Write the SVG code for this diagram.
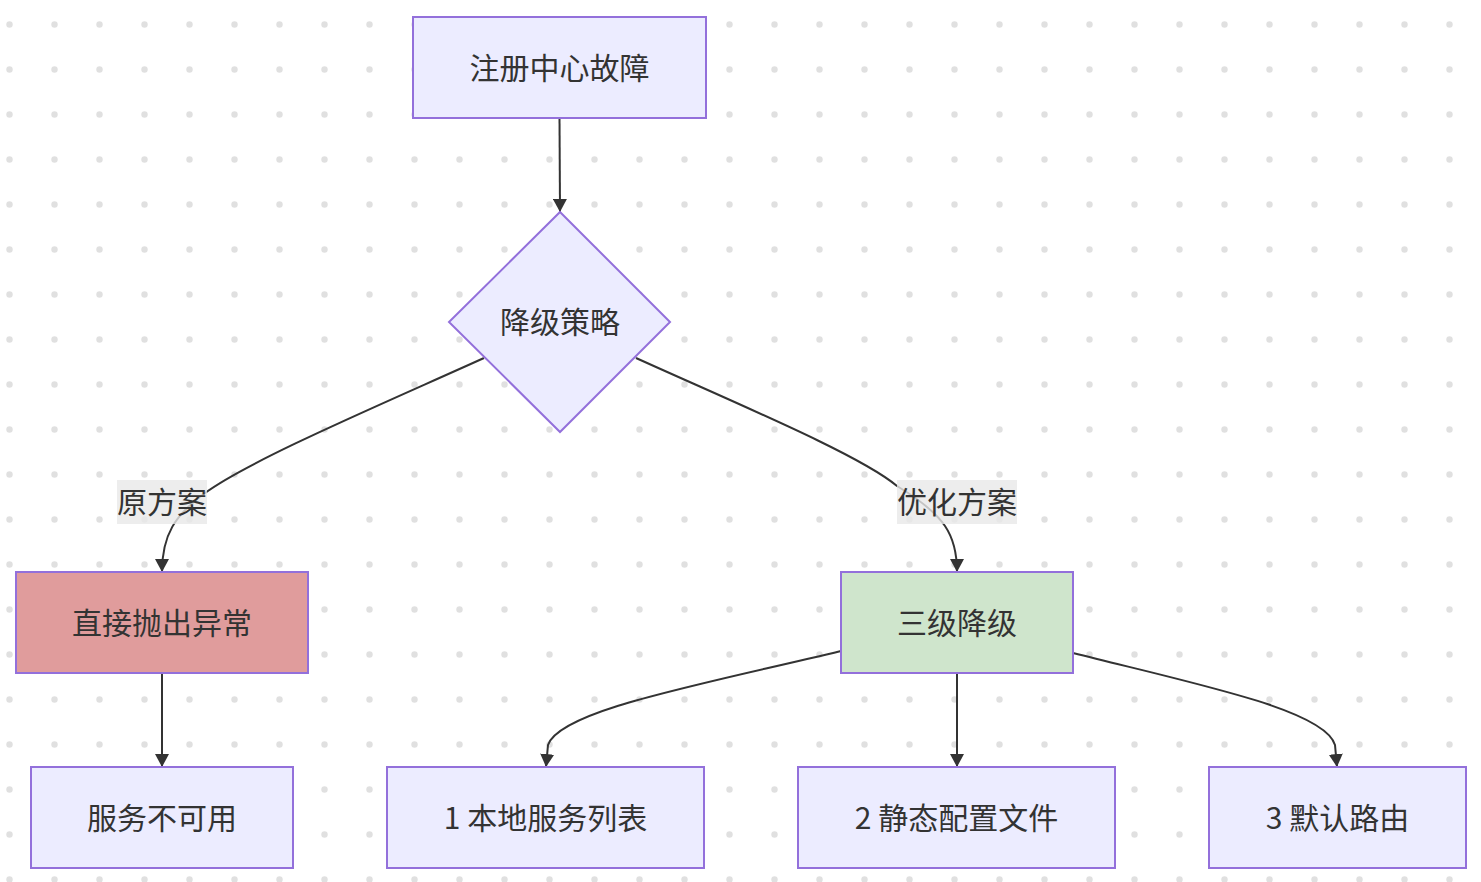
<svg xmlns="http://www.w3.org/2000/svg" width="1481" height="882" viewBox="0 0 1481 882">
<defs>
<pattern id="dots" x="0" y="0" width="45" height="45" patternUnits="userSpaceOnUse">
<circle cx="9.5" cy="24.5" r="3.2" fill="#e0e0e0"/>
</pattern>
<marker id="arrow" viewBox="0 0 13 14" refX="13" refY="7" markerWidth="13" markerHeight="14" markerUnits="userSpaceOnUse" orient="auto">
<path d="M0,0 L13,7 L0,14 z" fill="#333"/>
</marker>
<style>
.node rect, .node polygon { fill: #ECECFF; stroke: #9370DB; stroke-width: 2; }
.node text, .label text { font-family: "Noto Sans CJK SC", "Noto Sans", sans-serif; font-size: 30px; fill: #333; text-anchor: middle; dominant-baseline: central; }
.edge { fill: none; stroke: #333; stroke-width: 2; marker-end: url(#arrow); }
.label rect { fill: rgba(232,232,232,0.8); }
</style>
</defs>
<rect width="1481" height="882" fill="#fff"/>
<rect width="1481" height="882" fill="url(#dots)"/>
<g id="connectors">
<path class="edge" d="M559.5,118 L560,212"/>
<path class="edge" d="M484,358 C 380,405 250,460 205,493 C 175,515 162,535 162,572"/>
<path class="edge" d="M636,358 C 740,405 860,455 897,486 C 945,515 957,535 957,572"/>
<path class="edge" d="M162,673 L162,767"/>
<path class="edge" d="M841,651 C 700,685 560,710 548,745 L546,767"/>
<path class="edge" d="M957,673 L957,767"/>
<path class="edge" d="M1073,653 C 1200,685 1325,710 1335,745 L1337,767"/>
</g>
<g id="label-orig" class="label">
<rect x="117" y="480" width="90" height="44"/>
<text x="162" y="500">原方案</text>
</g>
<g id="label-opt" class="label">
<rect x="897" y="480" width="120" height="44"/>
<text x="957" y="500">优化方案</text>
</g>
<g id="n-fault" class="node">
<rect x="413" y="17" width="293" height="101"/>
<text x="559.5" y="65.5">注册中心故障</text>
</g>
<g id="n-strategy" class="node">
<polygon points="560,212 670,322 560,432 449,322"/>
<text x="560" y="320">降级策略</text>
</g>
<g id="n-throw" class="node">
<rect x="16" y="572" width="292" height="101" style="fill:#E09C9C"/>
<text x="162" y="620.5">直接抛出异常</text>
</g>
<g id="n-three" class="node">
<rect x="841" y="572" width="232" height="101" style="fill:#CFE5CC"/>
<text x="957" y="620.5">三级降级</text>
</g>
<g id="n-unavail" class="node">
<rect x="31" y="767" width="262" height="101"/>
<text x="162" y="815.5">服务不可用</text>
</g>
<g id="n-local" class="node">
<rect x="387" y="767" width="317" height="101"/>
<text x="545.5" y="815.5">1 本地服务列表</text>
</g>
<g id="n-static" class="node">
<rect x="798" y="767" width="317" height="101"/>
<text x="956.5" y="815.5">2 静态配置文件</text>
</g>
<g id="n-default" class="node">
<rect x="1209" y="767" width="257" height="101"/>
<text x="1337.5" y="815.5">3 默认路由</text>
</g>
</svg>
